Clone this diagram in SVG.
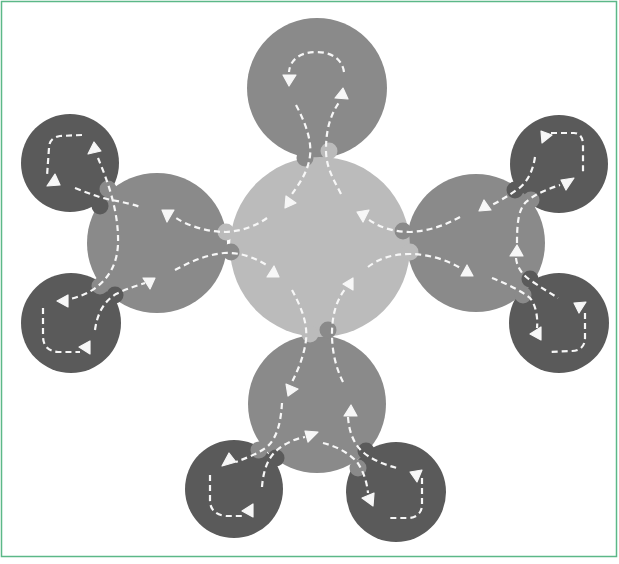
<svg xmlns="http://www.w3.org/2000/svg" width="619" height="564" viewBox="0 0 619 564">
<style>
.dark{fill:#5a5a5a}
.mid{fill:#8a8a8a}
.light{fill:#bbbbbb}
.flow{fill:none;stroke:#f7f7f7;stroke-width:2.2;stroke-dasharray:6 4}
.head{fill:#f7f7f7;stroke:#f7f7f7;stroke-width:1.2;stroke-linejoin:round}
</style>
<rect x="0" y="0" width="619" height="564" fill="#ffffff"/>
<rect x="1.5" y="1.5" width="615" height="555" fill="none" stroke="#5cb888" stroke-width="1.5"/>

<g id="node-dark-top-left"><circle class="dark" cx="70" cy="163" r="49"/></g>
<g id="node-dark-bottom-left"><circle class="dark" cx="71" cy="323" r="50"/></g>
<g id="node-dark-top-right"><circle class="dark" cx="559" cy="164" r="49"/></g>
<g id="node-dark-bottom-right"><circle class="dark" cx="559" cy="323" r="50"/></g>
<g id="node-dark-bottom-a"><circle class="dark" cx="234" cy="489" r="49"/></g>
<g id="node-dark-bottom-b"><circle class="dark" cx="396" cy="492" r="50"/></g>

<g id="node-mid-top"><circle class="mid" cx="317" cy="88" r="70"/></g>
<g id="node-mid-left"><circle class="mid" cx="157" cy="243" r="70"/></g>
<g id="node-mid-right"><circle class="mid" cx="476" cy="243" r="69"/></g>
<g id="node-mid-bottom"><circle class="mid" cx="317" cy="404" r="69"/></g>

<g id="node-hub"><circle class="light" cx="320" cy="247" r="90"/></g>

<g id="junctions">
  <circle class="mid" cx="305" cy="158" r="8.5"/>
  <circle class="light" cx="329" cy="151" r="8.5"/>
  <circle class="light" cx="226" cy="232" r="8.5"/>
  <circle class="mid" cx="231" cy="252" r="8.5"/>
  <circle class="mid" cx="403" cy="231" r="8.5"/>
  <circle class="light" cx="410" cy="252" r="8.5"/>
  <circle class="light" cx="310" cy="334" r="8.5"/>
  <circle class="mid" cx="328" cy="330" r="8.5"/>
  <circle class="mid" cx="108" cy="189" r="8.5"/>
  <circle class="dark" cx="100" cy="206" r="8.5"/>
  <circle class="mid" cx="100" cy="286" r="8.5"/>
  <circle class="dark" cx="115" cy="295" r="8.5"/>
  <circle class="dark" cx="515" cy="190" r="8.5"/>
  <circle class="mid" cx="531" cy="200" r="8.5"/>
  <circle class="dark" cx="530" cy="279" r="8.5"/>
  <circle class="mid" cx="523" cy="295" r="8.5"/>
  <circle class="mid" cx="259" cy="450" r="8.5"/>
  <circle class="dark" cx="276" cy="458" r="8.5"/>
  <circle class="dark" cx="366" cy="451" r="8.5"/>
  <circle class="mid" cx="358" cy="468" r="8.5"/>
</g>

<g id="connectors">
  <path class="flow" d="M344,72 C342,58 330,52 316,52 C300,52 290,60 289,72"/>
  <path class="flow" d="M296,105 C305,122 312,140 310,156 C308,172 299,184 292,194"/>
  <path class="flow" d="M341,194 C334,180 326,168 326,150 C326,130 330,115 340,101"/>
  <path class="flow" d="M267,218 C256,226 242,231 226,232 C208,232 188,226 176,218"/>
  <path class="flow" d="M175,270 C190,262 205,255 224,253 C240,252 256,258 268,266"/>
  <path class="flow" d="M460,217 C445,225 430,231 410,232 C395,232 380,228 368,219"/>
  <path class="flow" d="M368,267 C378,259 392,254 410,254 C428,254 448,260 462,269"/>
  <path class="flow" d="M292,290 C300,305 308,322 306,340 C304,356 298,370 292,382"/>
  <path class="flow" d="M343,382 C336,368 332,352 332,334 C332,316 336,300 346,288"/>
  <path class="flow" d="M98,158 C108,182 119,212 118,244 C117,272 100,292 70,299"/>
  <path class="flow" d="M75,188 C88,193 100,198 112,200 C122,202 132,204 140,207"/>
  <path class="flow" d="M95,330 C97,315 103,302 116,294 C126,289 136,286 145,283"/>
  <path class="flow" d="M82,135 L60,136 C53,137 49,141 49,148 L47,176"/>
  <path class="flow" d="M43,308 L43,336 C43,346 48,351 58,352 L80,352"/>
  <path class="flow" d="M535,157 C533,170 528,182 518,189 C508,196 498,202 490,206"/>
  <path class="flow" d="M551,133 L574,133 C580,133 583,138 583,145 L583,174"/>
  <path class="flow" d="M517,243 C517,225 518,210 526,202 C535,194 548,189 560,185"/>
  <path class="flow" d="M516,258 C517,268 523,276 533,282 C542,288 550,293 558,298"/>
  <path class="flow" d="M492,278 C505,283 520,290 530,298 C536,305 538,318 537,328"/>
  <path class="flow" d="M585,313 L585,338 C585,346 580,351 572,351 L550,352"/>
  <path class="flow" d="M282,403 C281,420 278,436 268,446 C258,454 246,458 236,462"/>
  <path class="flow" d="M262,487 C263,474 266,462 274,453 C283,444 294,439 305,437"/>
  <path class="flow" d="M210,475 L210,500 C210,510 216,515 226,516 L243,516"/>
  <path class="flow" d="M348,417 C349,432 354,445 364,453 C374,461 386,465 397,468"/>
  <path class="flow" d="M323,443 C335,446 348,452 357,462 C364,472 367,483 368,493"/>
  <path class="flow" d="M422,478 L422,505 C422,513 416,518 408,518 L388,518"/>

  <polygon class="head" points="283,75 296,75 289,86"/>
  <polygon class="head" points="335,98 348,99 343,88"/>
  <polygon class="head" points="285,208 296,203 286,196"/>
  <polygon class="head" points="357,212 369,210 363,222"/>
  <polygon class="head" points="279,277 267,277 274,266"/>
  <polygon class="head" points="353,278 353,290 343,284"/>
  <polygon class="head" points="162,210 174,210 167,222"/>
  <polygon class="head" points="143,278 155,278 150,289"/>
  <polygon class="head" points="461,276 473,276 467,265"/>
  <polygon class="head" points="479,211 491,210 484,200"/>
  <polygon class="head" points="510,256 523,256 517,245"/>
  <polygon class="head" points="530,334 541,327 541,340"/>
  <polygon class="head" points="541,131 542,143 552,135"/>
  <polygon class="head" points="561,180 574,178 566,190"/>
  <polygon class="head" points="574,303 586,302 579,313"/>
  <polygon class="head" points="47,186 60,185 55,174"/>
  <polygon class="head" points="88,154 101,151 94,142"/>
  <polygon class="head" points="57,301 68,295 68,307"/>
  <polygon class="head" points="79,347 90,341 90,354"/>
  <polygon class="head" points="286,384 298,389 288,396"/>
  <polygon class="head" points="344,416 357,416 351,405"/>
  <polygon class="head" points="222,466 236,462 229,453"/>
  <polygon class="head" points="305,431 318,432 308,442"/>
  <polygon class="head" points="242,511 253,504 253,517"/>
  <polygon class="head" points="362,498 374,493 373,506"/>
  <polygon class="head" points="410,472 422,470 417,482"/>
</g>
</svg>
